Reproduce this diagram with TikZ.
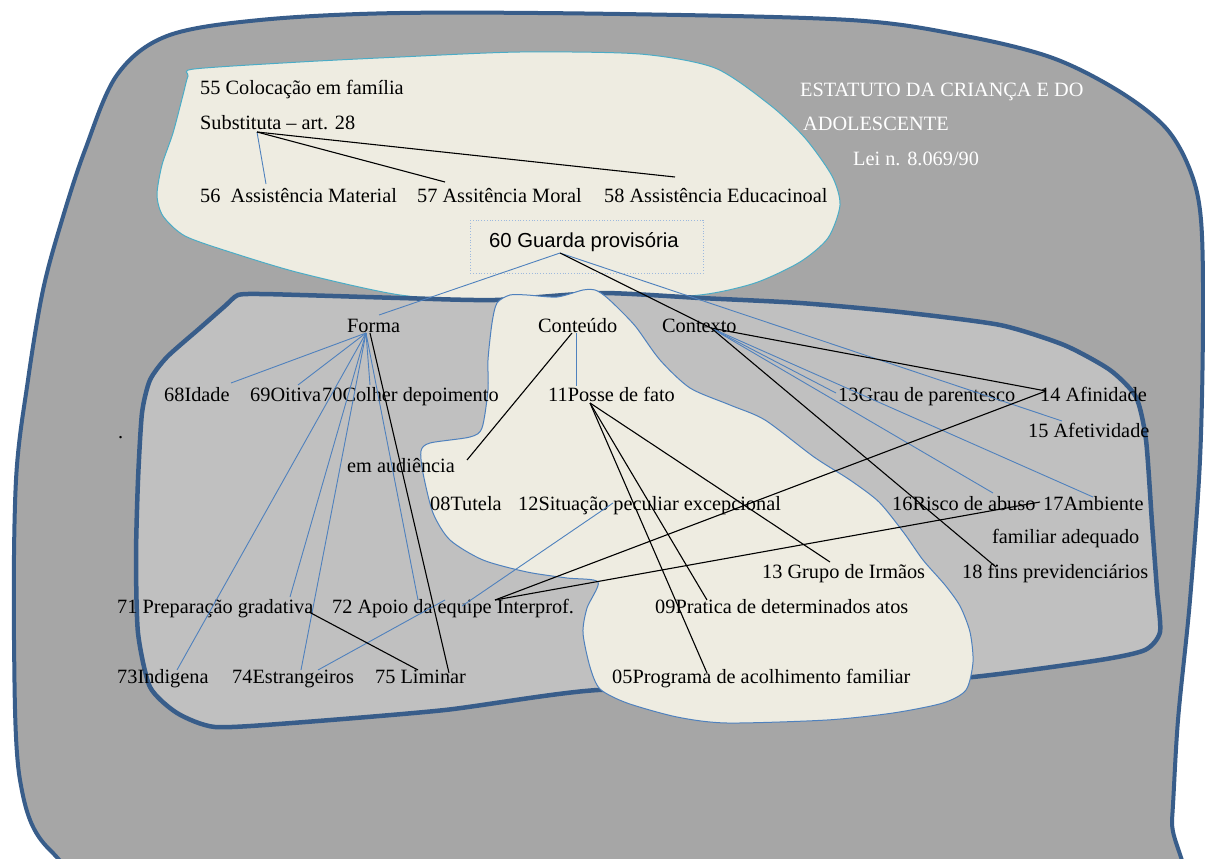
\documentclass[tikz,border=0pt]{standalone}
\usepackage{fontspec}
\setmainfont{Liberation Serif}
\newfontfamily\sansf{Liberation Sans}
\definecolor{outerfill}{HTML}{A6A6A6}
\definecolor{rim}{HTML}{385D8A}
\definecolor{cream}{HTML}{EEECE1}
\definecolor{midfill}{HTML}{C0C0C0}
\definecolor{linkblue}{HTML}{4F81BD}
\definecolor{cyanrim}{HTML}{4BACC6}
\definecolor{dotrim}{HTML}{9DB9DE}
\begin{document}
\begin{tikzpicture}[x=1pt,y=-1pt,
  lbl/.style={anchor=base west,inner sep=0pt,font=\fontsize{20.3}{23}\selectfont,text=black},
  ttl/.style={lbl,text=white},
  bl/.style={draw=linkblue,line width=0.9pt},
  bk/.style={draw=black,line width=1.1pt}]
\useasboundingbox (0,0) rectangle (1205,859);
\fill[white] (0,0) rectangle (1205,859);
\begin{scope}
\clip (0,0) rectangle (1205,859);
% outer region
\draw[fill=outerfill,draw=rim,line width=4pt]
  plot[smooth cycle,tension=0.55] coordinates {
  (400,13) (620,14) (850,20) (960,35) (1050,57) (1117,90) (1165,127) (1190,170)
  (1201,220) (1203,320) (1200,460) (1190,600) (1178,720) (1172,820) (1165,900)
  (900,905) (500,905) (140,895) (50,850) (20,780) (14,640) (16,480) (28,380)
  (43,290) (62,220) (85,150) (117,75) (167,36) (260,20)};
% upper region
\draw[fill=cream,draw=cyanrim,line width=1pt]
  plot[smooth cycle,tension=0.45] coordinates {
  (194,69) (300,62) (400,57) (520,52) (640,54) (715,68) (770,105) (805,138)
  (832,176) (840,205) (828,238) (800,262) (755,283) (700,295) (600,301)
  (500,302) (400,295) (300,273) (233,253) (185,236) (163,216) (157,195)
  (162,165) (173,133) (183,95) (188,76)};
% middle region
\draw[fill=midfill,draw=rim,line width=4.5pt]
  plot[smooth cycle,tension=0.4] coordinates {
  (238,295) (260,294) (300,295) (400,298) (495,300) (600,293) (700,298) (800,303)
  (900,312) (1000,325) (1064,345) (1110,370) (1136,397) (1146,440)
  (1152,523) (1157,590) (1160,632) (1145,650) (1100,660) (973,677)
  (800,690) (598,690) (445,710) (292,723) (215,727) (177,713) (150,687)
  (138,633) (136,557) (138,480) (142,413) (150,380) (167,357) (200,328) (225,306)};
% inner cream region
\draw[fill=cream,draw=linkblue,line width=1pt]
  plot[smooth cycle,tension=0.45] coordinates {
  (497,303) (510,295) (527,295) (557,297) (583,290) (595,290) (605,296)
  (618,308) (636,327) (660,360) (690,388) (730,405) (765,420) (814,457)
  (850,480) (879,502) (904,533) (923,560) (945,585) (960,606) (970,632)
  (973,662) (966,690) (943,703) (893,713) (827,720) (727,723) (677,717)
  (627,703) (600,689) (590,667) (583,633) (587,608) (598,582) (567,578)
  (527,572) (483,560) (450,540) (433,513) (423,473) (421,451) (430,443)
  (470,437) (482,428) (488,390) (488,360) (492,323)};
\end{scope}
% dotted frame of the central item
\draw[dotrim,dotted,line width=0.8pt] (470,220) rectangle (703,273);

% labels
\node[lbl] (n55) at (200,95) {55 Colocação em família};
\node[lbl] (n55b) at (200,129) {Substituta – art. 28};
\node[lbl] (n56) at (200,202) {56\ \ Assistência Material};
\node[lbl] (n57) at (417,202) {57 Assitência Moral};
\node[lbl] (n58) at (604,202) {58 Assistência Educacinoal};
\node[lbl,font=\sansf\fontsize{20.3}{23}\selectfont] (n60) at (489,247) {60 Guarda provisória};
\node[ttl] (t1) at (800,96) {ESTATUTO DA CRIANÇA E DO};
\node[ttl] (t2) at (803,130) {ADOLESCENTE};
\node[ttl] (t3) at (853,165) {Lei n. 8.069/90};
\node[lbl] (forma) at (347,332) {Forma};
\node[lbl] (conteudo) at (538,332) {Conteúdo};
\node[lbl] (contexto) at (662,332) {Contexto};
\node[lbl] (n68) at (164,401) {68Idade};
\node[lbl] (n69) at (250,401) {69Oitiva};
\node[lbl] (n70) at (322,401) {70Colher depoimento};
\node[lbl] (n70b) at (347,472) {em audiência};
\node[lbl] (n11) at (548,401) {11Posse de fato};
\node[lbl] (n13) at (838,401) {13Grau de parentesco};
\node[lbl] (n14) at (1040,401) {14 Afinidade};
\node[lbl] (n15) at (1028,437) {15 Afetividade};
\node[lbl] (n08) at (430,510) {08Tutela};
\node[lbl] (n12) at (518,510) {12Situação peculiar excepcional};
\node[lbl] (n16) at (892,510) {16Risco de abuso};
\node[lbl] (n17) at (1043,510) {17Ambiente};
\node[lbl] (n17b) at (992,543) {familiar adequado};
\node[lbl] (n13g) at (762,578) {13 Grupo de Irmãos};
\node[lbl] (n18) at (962,578) {18 fins previdenciários};
\node[lbl] (n71) at (117,613) {71 Preparação gradativa};
\node[lbl] (n72) at (332,613) {72 Apoio da equipe Interprof.};
\node[lbl] (n09) at (655,613) {09Pratica de determinados atos};
\node[lbl] (n73) at (117,683) {73Indigena};
\node[lbl] (n74) at (232,683) {74Estrangeiros};
\node[lbl] (n75) at (375,683) {75 Liminar};
\node[lbl] (n05) at (612,683) {05Programa de acolhimento familiar};
\node[lbl] (dot) at (118,438) {.};

% attachment points
\coordinate (subHub) at (257,132);
\coordinate (e56) at (266,184);
\coordinate (e57) at (445,182);
\coordinate (e58) at (675,177);
\coordinate (gHub) at (560,253);
\coordinate (fTop) at (379,315);
\coordinate (e15) at (1062,421);
\coordinate (fHub) at (366,333);
\coordinate (fHubK) at (370,333);
\coordinate (e68) at (231,383);
\coordinate (e69) at (298,385);
\coordinate (e70) at (370,385);
\coordinate (e73) at (177,670);
\coordinate (e71) at (290,597);
\coordinate (e74) at (301,670);
\coordinate (e72) at (418,600);
\coordinate (e75) at (449,673);
\coordinate (s71) at (309,612);
\coordinate (e75b) at (418,670);
\coordinate (cHub) at (576,333);
\coordinate (cHubK) at (572,333);
\coordinate (e11) at (576,386);
\coordinate (eAud) at (467,460);
\coordinate (xHub) at (711,328);
\coordinate (e13) at (836,393);
\coordinate (e16) at (993,493);
\coordinate (e17) at (1093,497);
\coordinate (e14) at (1046,391);
\coordinate (e18) at (996,567);
\coordinate (pHub) at (590,403);
\coordinate (e13g) at (830,562);
\coordinate (e09) at (707,600);
\coordinate (e05) at (707,673);
\coordinate (s74) at (318,670);
\coordinate (e72b) at (445,600);
\coordinate (s72) at (462,606);
\coordinate (e12) at (613,503);
\coordinate (aHub) at (495,600);
\coordinate (e17b) at (1040,502);

% blue connectors
\draw[bl] (subHub) -- (e56);
\draw[bl] (gHub) -- (fTop);
\draw[bl] (gHub) -- (e15);
\foreach \t in {e68,e69,e70,e73,e71,e74,e72} \draw[bl] (fHub) -- (\t);
\draw[bl] (cHub) -- (e11);
\foreach \t in {e13,e16,e17} \draw[bl] (xHub) -- (\t);
\draw[bl] (s74) -- (e72b);
\draw[bl] (s72) -- (e12);

% black connectors
\draw[bk] (subHub) -- (e57);
\draw[bk] (subHub) -- (e58);
\draw[bk] (gHub) -- (xHub);
\draw[bk] (fHubK) -- (e75);
\draw[bk] (s71) -- (e75b);
\draw[bk] (cHubK) -- (eAud);
\draw[bk] (xHub) -- (e14);
\draw[bk] (xHub) -- (e18);
\foreach \t in {e13g,e09,e05} \draw[bk] (pHub) -- (\t);
\draw[bk] (aHub) -- (e14);
\draw[bk] (aHub) -- (e17b);
\end{tikzpicture}
\end{document}
